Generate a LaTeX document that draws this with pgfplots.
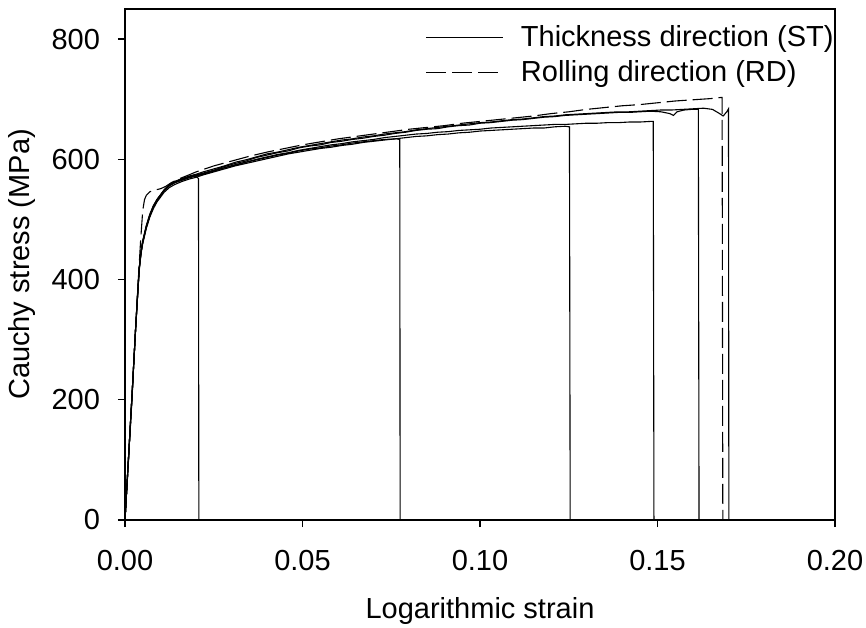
\documentclass[border=0pt]{standalone}
\usepackage{pgfplots}
\pgfplotsset{compat=1.18}
\usepackage{fontspec}
\setmainfont{Liberation Sans}
\newcommand{\chartfont}{\fontsize{14.5}{17}\selectfont}
\begin{document}
\begin{tikzpicture}
\path[use as bounding box] (-62.5pt,-53.5pt) rectangle (370.5pt,260pt);
\begin{axis}[
  scale only axis, width=355pt, height=255.5pt,
  xmin=0, xmax=0.2, ymin=0, ymax=850,
  xtick={0,0.05,0.1,0.15,0.2},
  ytick={0,200,400,600,800},
  xtick pos=bottom, ytick pos=left,
  tick align=outside, major tick length=3.5pt,
  axis line style={line width=0.65pt},
  every tick/.style={line width=0.65pt, black},
  scaled x ticks=false,
  /pgf/number format/assume math mode=true,
  xticklabel style={/pgf/number format/fixed, /pgf/number format/fixed zerofill, /pgf/number format/precision=2, yshift=-8pt},
  tick label style={font=\chartfont},
  yticklabel style={xshift=-5.5pt},
  label style={font=\chartfont},
  xlabel={Logarithmic strain},
  ylabel={Cauchy stress (MPa)},
  xlabel style={at={(axis description cs:0.5,-0.192)}, anchor=base},
  ylabel style={at={(axis description cs:-0.134,0.5)}, anchor=base},
  legend style={draw=none, fill=none, at={(axis description cs:1,1)}, anchor=north east,
    xshift=4.5pt, yshift=-4pt,
    font=\chartfont, legend cell align=left, row sep=1.5pt},
  legend image code/.code={\draw[#1] (0pt,0pt) -- (38.5pt,0pt); \path (45pt,0pt);},
]
% Specimen F (ST), ends at 0.170
\addplot[black, solid, no markers, line width=0.55pt] coordinates {
(0,0) (0.001,104) (0.002,209) (0.003,319) (0.0035,369) (0.004,417) (0.0045,444) (0.005,462) (0.006,487) (0.007,506) (0.008,521) (0.009,532) (0.010,540) (0.011,548) (0.0125,557) (0.014,562) (0.016,567) (0.018,572) (0.020,575)
(0.022,579) (0.025,584) (0.028,589) (0.031,595) (0.034,599) (0.037,604) (0.040,609) (0.043,612) (0.046,616) (0.049,620) (0.052,623) (0.055,626) (0.058,629) (0.061,632) (0.064,634) (0.067,637) (0.070,639) (0.073,642) (0.076,644) (0.079,646) (0.082,649) (0.085,651) (0.088,653) (0.091,655) (0.094,657) (0.097,659) (0.100,661) (0.103,662) (0.106,664) (0.109,666) (0.112,667) (0.115,669) (0.118,671) (0.121,672) (0.124,674) (0.127,675) (0.130,676) (0.133,677) (0.136,678) (0.139,679) (0.142,679) (0.145,680) (0.148,681) (0.151,682) (0.154,682) (0.157,683) (0.160,684) (0.163,685) (0.1655,683) (0.1675,676) (0.1685,672) (0.1695,679) (0.1700,684) (0.1701,0)
};
\addlegendentry{Thickness direction (ST)}
% RD (dashed)
\addplot[black, no markers, line width=0.55pt, dash pattern=on 10pt off 3pt] coordinates {
(0,0) (0.001,100) (0.002,205) (0.003,320) (0.0038,405) (0.0044,465) (0.0050,515) (0.0055,533) (0.006,540) (0.007,546) (0.0085,549) (0.010,551) (0.0115,555) (0.013,561) (0.015,567) (0.018,574) (0.020,579) (0.025,589) (0.030,597) (0.035,605) (0.040,612) (0.045,618) (0.050,624) (0.055,629) (0.060,634) (0.065,638) (0.070,642) (0.075,646) (0.080,650) (0.085,653) (0.090,656) (0.095,660) (0.100,663) (0.105,666) (0.110,669) (0.115,672) (0.120,676) (0.125,679) (0.130,683) (0.135,686) (0.140,689) (0.145,691) (0.150,694) (0.155,697) (0.160,699) (0.165,701) (0.1682,703) (0.1684,0)
};
\addlegendentry{Rolling direction (RD)}
% Specimen A, ends at 0.021
\addplot[black, solid, no markers, line width=0.55pt] coordinates {
(0,0) (0.001,106) (0.002,211) (0.003,321) (0.0035,371) (0.004,419) (0.0045,447) (0.005,465) (0.006,490) (0.007,509) (0.008,523) (0.009,533) (0.010,541) (0.011,549) (0.0125,557) (0.014,563) (0.016,567) (0.018,571) (0.0195,574) (0.0207,568) (0.0208,0)
};
% Specimen B, ends at 0.0775
\addplot[black, solid, no markers, line width=0.55pt] coordinates {
(0,0) (0.001,105) (0.002,210) (0.003,320) (0.0035,370) (0.004,418) (0.0045,445) (0.005,463) (0.006,488) (0.007,507) (0.008,521) (0.009,531) (0.010,539) (0.011,547) (0.0125,556) (0.014,561) (0.016,565) (0.018,569) (0.020,572)
(0.022,575) (0.025,580) (0.028,586) (0.031,590) (0.034,595) (0.037,599) (0.040,603) (0.043,607) (0.046,610) (0.049,614) (0.052,617) (0.055,619) (0.058,622) (0.061,624) (0.064,627) (0.067,629) (0.070,631) (0.073,633) (0.0765,634) (0.0774,633) (0.0775,0)
};
% Specimen C, ends at 0.1254
\addplot[black, solid, no markers, line width=0.55pt] coordinates {
(0,0) (0.001,103) (0.002,208) (0.003,318) (0.0035,367) (0.004,415) (0.0045,442) (0.005,460) (0.006,485) (0.007,504) (0.008,518) (0.009,529) (0.010,537) (0.011,545) (0.0125,553) (0.014,558) (0.016,563) (0.018,567) (0.020,570)
(0.022,574) (0.025,579) (0.028,584) (0.031,589) (0.034,593) (0.037,597) (0.040,601) (0.043,605) (0.046,609) (0.049,612) (0.052,615) (0.055,618) (0.058,620) (0.061,623) (0.064,625) (0.067,628) (0.070,630) (0.073,632) (0.076,634) (0.079,636) (0.082,638) (0.085,639) (0.088,641) (0.091,642) (0.094,644) (0.097,645) (0.100,647) (0.103,648) (0.106,649) (0.109,650) (0.112,651) (0.115,652) (0.118,652) (0.121,654) (0.124,655) (0.1252,654) (0.1254,0)
};
% Specimen D, ends at 0.149
\addplot[black, solid, no markers, line width=0.55pt] coordinates {
(0,0) (0.001,105) (0.002,210) (0.003,320) (0.0035,370) (0.004,418) (0.0045,445) (0.005,463) (0.006,488) (0.007,507) (0.008,522) (0.009,532) (0.010,540) (0.011,548) (0.0125,556) (0.014,561) (0.016,566) (0.018,570) (0.020,573)
(0.022,576) (0.025,581) (0.028,586) (0.031,591) (0.034,595) (0.037,600) (0.040,604) (0.043,608) (0.046,611) (0.049,615) (0.052,618) (0.055,621) (0.058,624) (0.061,626) (0.064,629) (0.067,631) (0.070,633) (0.073,636) (0.076,638) (0.079,640) (0.082,642) (0.085,643) (0.088,645) (0.091,646) (0.094,648) (0.097,649) (0.100,650) (0.103,652) (0.106,653) (0.109,654) (0.112,655) (0.115,656) (0.118,657) (0.121,658) (0.124,658) (0.127,659) (0.130,660) (0.133,660) (0.136,661) (0.139,661) (0.142,662) (0.145,662) (0.148,663) (0.1488,663) (0.1490,0)
};
% Specimen E, ends at 0.1617
\addplot[black, solid, no markers, line width=0.55pt] coordinates {
(0,0) (0.001,104) (0.002,209) (0.003,319) (0.0035,369) (0.004,417) (0.0045,444) (0.005,462) (0.006,487) (0.007,506) (0.008,522) (0.009,533) (0.010,541) (0.011,549) (0.0125,558) (0.014,563) (0.016,568) (0.018,571) (0.020,574)
(0.022,577) (0.025,582) (0.028,588) (0.031,593) (0.034,597) (0.037,603) (0.040,607) (0.043,611) (0.046,614) (0.049,619) (0.052,622) (0.055,624) (0.058,628) (0.061,630) (0.064,633) (0.067,635) (0.070,638) (0.073,640) (0.076,643) (0.079,645) (0.082,648) (0.085,650) (0.088,651) (0.091,654) (0.094,656) (0.097,657) (0.100,660) (0.103,661) (0.106,663) (0.109,665) (0.112,666) (0.115,668) (0.118,670) (0.121,671) (0.124,673) (0.127,674) (0.130,675) (0.133,676) (0.136,677) (0.139,678) (0.142,678) (0.145,679) (0.148,680) (0.151,679) (0.1535,676) (0.1545,673) (0.1555,679) (0.1575,682) (0.1595,683) (0.1615,683) (0.1617,0)
};
\end{axis}
\end{tikzpicture}
\end{document}
